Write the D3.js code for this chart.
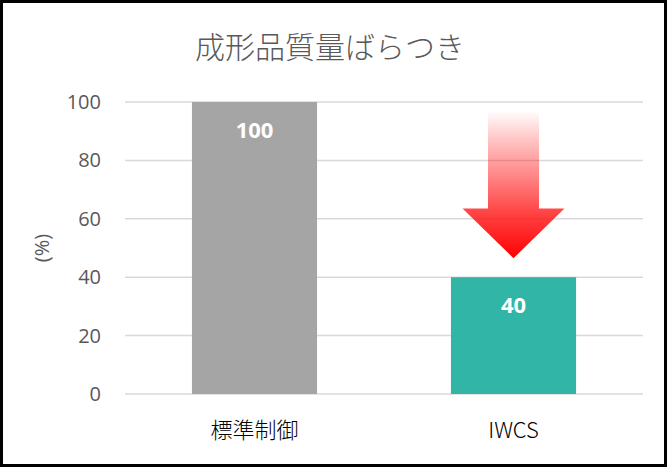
<!DOCTYPE html>
<html>
<head>
<meta charset="utf-8">
<script src="https://cdn.jsdelivr.net/npm/d3@7"></script>
<style>
  html, body { margin: 0; padding: 0; background: #fff; }
  svg { display: block; }
</style>
</head>
<body>
<div id="wrapper"></div>
<script>
// chart data
const categories = ["標準制御", "IWCS"]
const values = [100, 40]
const barColors = ["#a5a5a5", "#30b5a7"]
const yTicks = [0, 20, 40, 60, 80, 100]
const title = "成形品質量ばらつき"
const yLabel = "(%)"
// arrow from the top of the chart down toward the IWCS bar
const arrowFrom = 97
const arrowHeadAt = 63.5
const arrowTo = 46.5

function drawbars() {
    const parent = d3.select("#wrapper")
    parent.selectAll('*').remove()

    const width = 667
    const height = 467
    const font = "'Noto Sans CJK JP', 'Noto Sans', sans-serif"
    const left = 125, right = 643, top = 102, bottom = 394

    const svg = parent.append("svg")
        .attr("width", width)
        .attr("height", height)

    svg.append("rect")
        .attr("x", 1.5).attr("y", 1.5)
        .attr("width", width - 3).attr("height", height - 3)
        .attr("fill", "#fff")
        .attr("stroke", "#000")
        .attr("stroke-width", 3)

    const x = d3.scaleBand().domain(categories).range([left, right]).padding(0)
    const y = d3.scaleLinear().domain([0, 100]).range([bottom, top])
    const barW = x.bandwidth() / 2.07

    // gridlines
    svg.append("g")
        .selectAll("line")
        .data(yTicks)
        .enter().append("line")
        .attr("x1", left).attr("x2", right)
        .attr("y1", d => y(d)).attr("y2", d => y(d))
        .attr("stroke", "#d9d9d9")
        .attr("stroke-width", 1.5)

    // y axis labels
    const yAxis = d3.axisLeft(y).tickValues(yTicks).tickSize(0).tickPadding(0)
    const yg = svg.append("g")
        .attr("transform", "translate(101,0)")
        .call(yAxis)
    yg.select(".domain").remove()
    yg.selectAll("text")
        .attr("fill", "#595959")
        .style("font-family", "'Open Sans', 'Noto Sans', sans-serif")
        .style("font-size", "20px")

    svg.append("text")
        .attr("transform", "translate(44,248) rotate(-90)")
        .attr("text-anchor", "middle")
        .attr("dominant-baseline", "middle")
        .attr("fill", "#595959")
        .style("font-family", "'Open Sans', 'Noto Sans', sans-serif")
        .style("font-size", "20px")
        .text(yLabel)

    // bars
    svg.append("g")
        .selectAll("rect")
        .data(values)
        .enter().append("rect")
        .attr("x", (d, i) => x(categories[i]) + (x.bandwidth() - barW) / 2)
        .attr("y", d => y(d))
        .attr("width", barW)
        .attr("height", d => y(0) - y(d))
        .attr("fill", (d, i) => barColors[i])

    // value labels
    svg.append("g")
        .selectAll("text")
        .data(values)
        .enter().append("text")
        .attr("x", (d, i) => x(categories[i]) + x.bandwidth() / 2)
        .attr("y", d => y(d) + 35.5)
        .attr("text-anchor", "middle")
        .attr("fill", "#fff")
        .style("font-family", "'Open Sans', 'Noto Sans', sans-serif")
        .style("font-weight", "bold")
        .style("font-size", "22px")
        .text(d => d)

    // x axis labels
    const xAxis = d3.axisBottom(x).tickSize(0).tickPadding(0)
    const xg = svg.append("g")
        .attr("transform", "translate(0," + (bottom + 44) + ")")
        .call(xAxis)
    xg.select(".domain").remove()
    xg.selectAll("text")
        .attr("fill", "#000")
        .attr("dy", 0)
        .attr("dominant-baseline", "auto")
        .style("font-family", font)
        .style("font-weight", "300")
        .style("font-size", "22px")

    // title
    svg.append("text")
        .attr("x", 330)
        .attr("y", 58)
        .attr("text-anchor", "middle")
        .attr("fill", "#595959")
        .style("font-family", font)
        .style("font-weight", "300")
        .style("font-size", "30px")
        .text(title)

    // gradient arrow
    const defs = svg.append("defs")
    const grad = defs.append("linearGradient")
        .attr("id", "arrowGrad")
        .attr("gradientUnits", "userSpaceOnUse")
        .attr("x1", 0).attr("x2", 0)
        .attr("y1", y(arrowFrom)).attr("y2", y(arrowTo))
    grad.append("stop").attr("offset", "0").attr("stop-color", "#ff0000").attr("stop-opacity", 0)
    grad.append("stop").attr("offset", "0.45").attr("stop-color", "#ff2020").attr("stop-opacity", 0.55)
    grad.append("stop").attr("offset", "0.7").attr("stop-color", "#ff2020").attr("stop-opacity", 0.85)
    grad.append("stop").attr("offset", "1").attr("stop-color", "#ff0000").attr("stop-opacity", 1)

    const cx = x("IWCS") + x.bandwidth() / 2
    const shaftHalf = 25.5
    const headHalf = 51
    const pts = [
        [cx - shaftHalf, y(arrowFrom)],
        [cx + shaftHalf, y(arrowFrom)],
        [cx + shaftHalf, y(arrowHeadAt)],
        [cx + headHalf, y(arrowHeadAt)],
        [cx, y(arrowTo)],
        [cx - headHalf, y(arrowHeadAt)],
        [cx - shaftHalf, y(arrowHeadAt)]
    ]
    svg.append("path")
        .attr("d", d3.line()(pts) + "Z")
        .attr("fill", "url(#arrowGrad)")
}
drawbars()
</script>
</body>
</html>
